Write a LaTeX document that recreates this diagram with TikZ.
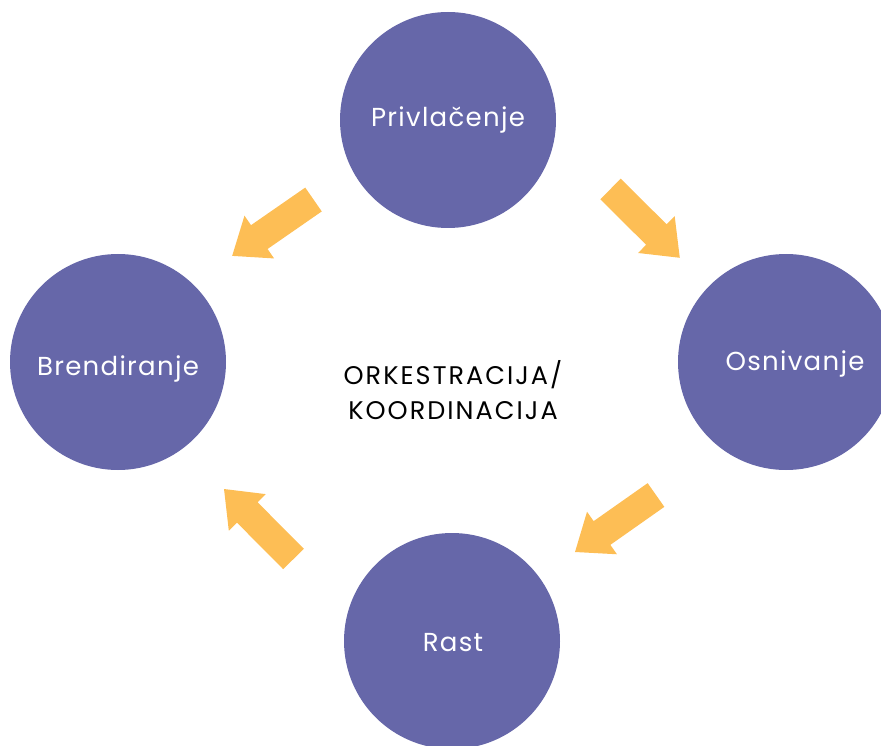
\documentclass[tikz,border=0pt]{standalone}
\usepackage{fontspec}
\setmainfont{Poppins}
\newfontfamily\labelfont{Poppins}[LetterSpace=5]
\newfontfamily\centrefont{Poppins}[LetterSpace=8]
\usetikzlibrary{calc}
\definecolor{circ}{HTML}{6667A9}
\definecolor{arr}{HTML}{FDBE55}
\tikzset{
  phase/.style={circle, fill=circ, minimum size=216pt, inner sep=0pt},
  phaselabel/.style={anchor=base, inner sep=0pt, text=white, font=\labelfont\fontsize{26}{30}\selectfont},
  centre/.style={anchor=base, inner sep=0pt, text=black, font=\centrefont\fontsize{25.5}{30}\selectfont},
  blockarrow/.style={fill=arr}
}
% block arrow: from tail centre (#1) to tip (#2)
\newcommand{\blockarr}[2]{%
  \path let \p1=(#1), \p2=(#2), \n1={atan2(\y2-\y1,\x2-\x1)}, \n2={veclen(\x2-\x1,\y2-\y1)} in
    [blockarrow, shift={(\p1)}, rotate=\n1]
    (0,14.5) -- (\n2-33pt,14.5) -- (\n2-33pt,26) -- (\n2,0) -- (\n2-33pt,-26) -- (\n2-33pt,-14.5) -- (0,-14.5) -- cycle;}
\begin{document}
\begin{tikzpicture}[x=1pt,y=-1pt]
\useasboundingbox (0,0) rectangle (881,746);
\node[phase] (priv) at (448,120) {};
\node[phase] (brend) at (118,362) {};
\node[phase] (osn) at (786,362) {};
\node[phase] (rast) at (452,641) {};
\node[phaselabel] (privt) at (448,127) {Privlačenje};
\node[phaselabel] (brendt) at (118,375) {Brendiranje};
\node[phaselabel] (osnt) at (795,370) {Osnivanje};
\node[phaselabel] (rastt) at (453,651) {Rast};
\node[centre] (orch1) at (453,384) {ORKESTRACIJA/};
\node[centre] (orch2) at (453,419) {KOORDINACIJA};
\coordinate (a1s) at (313.5,199.5); \coordinate (a1e) at (232,256);
\coordinate (a2s) at (610.5,189);   \coordinate (a2e) at (680,258);
\coordinate (a3s) at (656,495);     \coordinate (a3e) at (575,552);
\coordinate (a4s) at (293.5,559);   \coordinate (a4e) at (224,489);
\blockarr{a1s}{a1e}
\blockarr{a2s}{a2e}
\blockarr{a3s}{a3e}
\blockarr{a4s}{a4e}
\end{tikzpicture}
\end{document}
